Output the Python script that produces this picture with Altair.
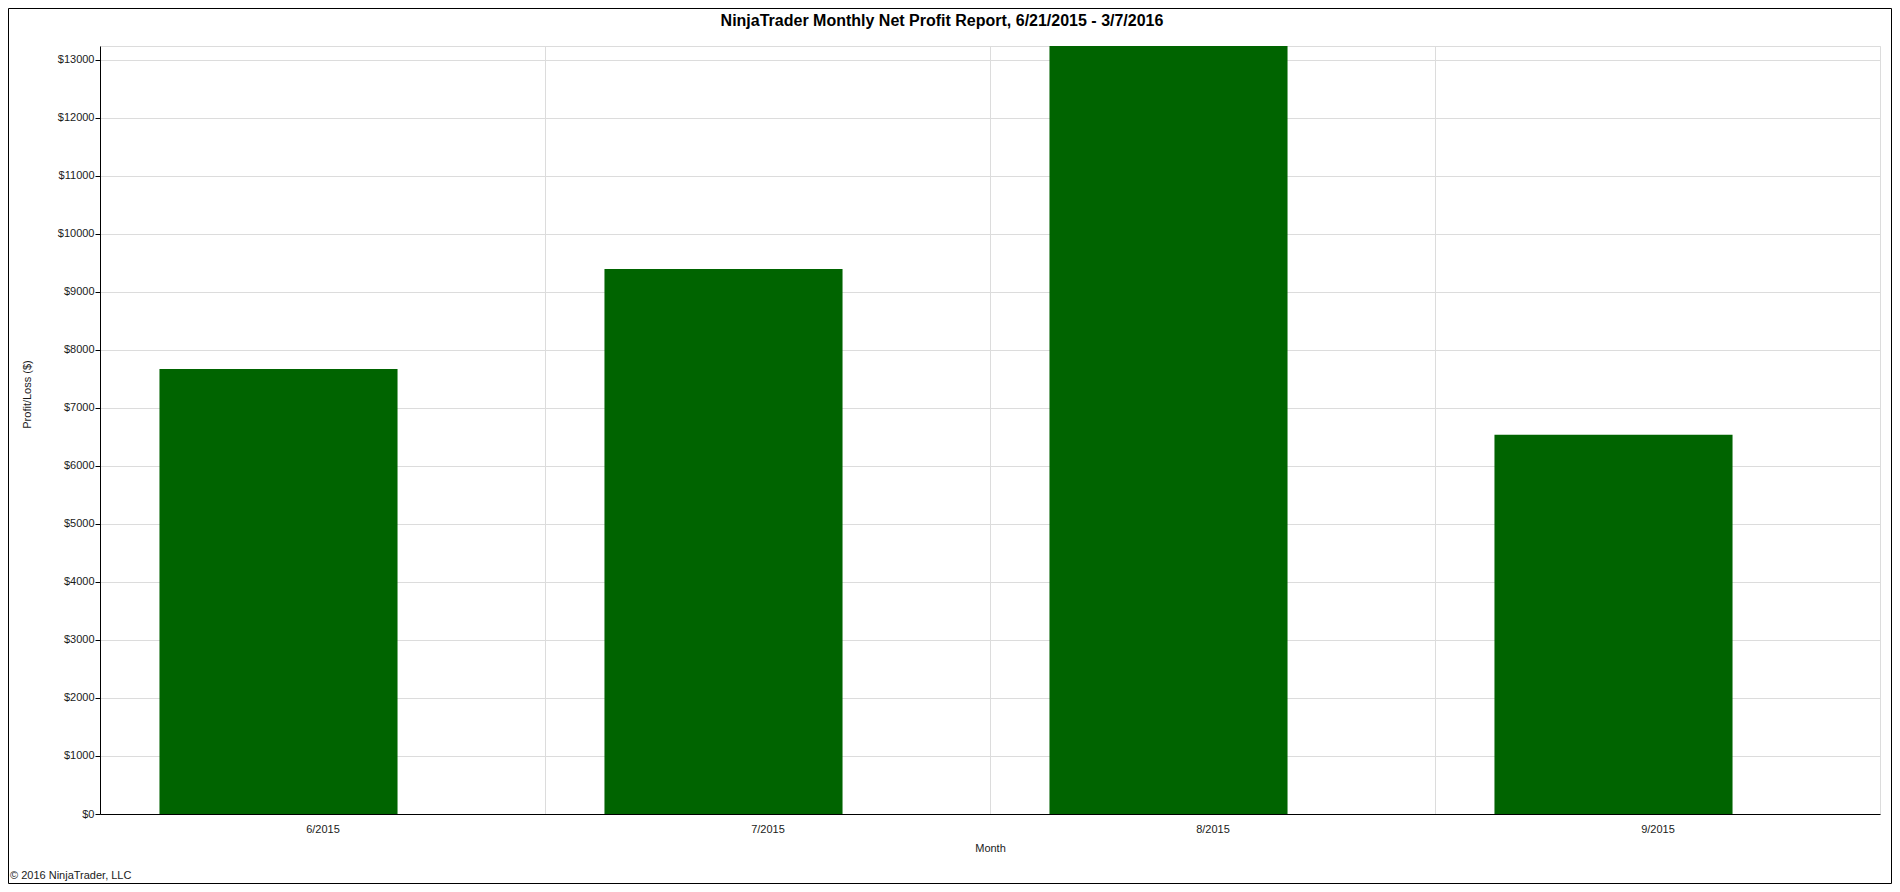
import altair as alt
import pandas as pd

# ---- data ----
months = ["6/2015", "7/2015", "8/2015", "9/2015"]
net_profit = [7672, 9397, 13240, 6540]
y_tick_values = [0, 1000, 2000, 3000, 4000, 5000, 6000, 7000, 8000, 9000,
                 10000, 11000, 12000, 13000]
y_max = 13240
title_text = ["NinjaTrader Monthly Net Profit Report, 6/21/2015 - 3/7/2016"]
copyright_text = ["© 2016 NinjaTrader, LLC"]

df = pd.DataFrame({"Month": months, "Profit": net_profit})
note_df = pd.DataFrame({"t": copyright_text})
title_df = pd.DataFrame({"t": title_text})

FONT = "Liberation Sans"
W, H = 1780, 768
PAD = {"left": 92, "top": 38, "right": 12, "bottom": 70}
GRID = "#dcdcdc"
TXT = "#1a1a1a"

bars = alt.Chart(df).mark_bar(
    color="#006400",
    width=alt.RelativeBandSize(0.535),
    xOffset=-44,
).encode(
    x=alt.X(
        "Month:N",
        sort=months,
        scale=alt.Scale(paddingInner=0, paddingOuter=0),
        axis=alt.Axis(
            title="Month",
            labelAngle=0,
            ticks=False,
            tickSize=0,
            tickBand="extent",
            grid=True,
            gridColor=GRID,
            gridWidth=1,
            domainColor="black",
            domainWidth=1,
            labelPadding=9,
            labelFontSize=11,
            labelFont=FONT,
            labelColor=TXT,
            titleFontSize=11,
            titleFont=FONT,
            titleFontWeight="normal",
            titleColor=TXT,
            titleY=34,
            titleBaseline="middle",
        ),
    ),
    y=alt.Y(
        "Profit:Q",
        scale=alt.Scale(domain=[0, y_max], nice=False),
        axis=alt.Axis(
            title="Profit/Loss ($)",
            values=y_tick_values,
            labelExpr="'$' + datum.value",
            tickSize=5,
            tickColor="black",
            domainColor="black",
            domainWidth=1,
            grid=True,
            gridColor=GRID,
            gridWidth=1,
            labelPadding=1,
            labelFontSize=11,
            labelFont=FONT,
            labelColor=TXT,
            titleFontSize=11,
            titleFont=FONT,
            titleFontWeight="normal",
            titleColor=TXT,
            titleAngle=270,
            titleX=-73,
            titleY=348,
            titleAlign="center",
            titleBaseline="middle",
        ),
    ),
)

title = alt.Chart(title_df).mark_text(
    align="center", baseline="alphabetic", fontSize=16, fontWeight="bold",
    font=FONT, color="black"
).encode(
    text="t:N",
    x=alt.value(W / 2 - 48),
    y=alt.value(-20),
)

note = alt.Chart(note_df).mark_text(
    align="left", baseline="bottom", fontSize=11, font=FONT, color=TXT
).encode(
    text="t:N",
    x=alt.value(-90),
    y=alt.value(H + PAD["bottom"] - 3),
)

frame = alt.Chart(note_df).mark_rect(
    filled=False, stroke="black", strokeWidth=1
).encode(
    x=alt.value(-PAD["left"] + 0.5),
    x2=alt.value(W + PAD["right"] - 0.5),
    y=alt.value(-PAD["top"] + 0.5),
    y2=alt.value(H + PAD["bottom"] - 0.5),
)

chart = alt.layer(frame, bars, title, note).properties(
    width=W,
    height=H,
    padding=PAD,
    autosize=alt.AutoSizeParams(type="none"),
).configure_view(stroke=GRID, strokeWidth=1)

chart.save("out.html", embed_options={"renderer": "svg", "actions": False})
